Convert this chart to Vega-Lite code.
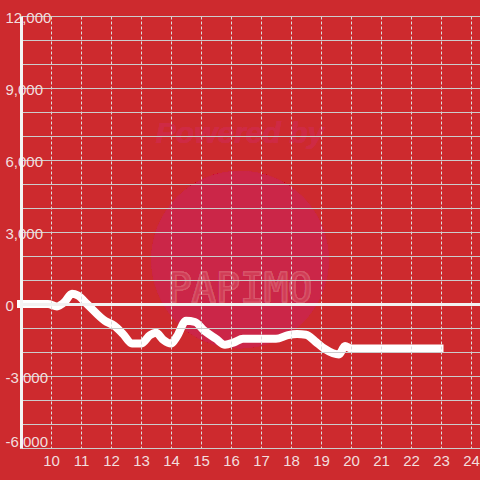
{
  "$schema": "https://vega.github.io/schema/vega-lite/v6.json",
  "width": 459,
  "height": 432,
  "autosize": {"type": "none"},
  "padding": {"left": 21, "top": 16, "right": 0, "bottom": 32},
  "background": "#cd2a2e",
  "config": {"view": {"stroke": null}, "font": "Liberation Sans"},
  "data": {
    "values": [
      {"hour": 9.0, "value": 0},
      {"hour": 9.5, "value": 0},
      {"hour": 9.9, "value": 0},
      {"hour": 10.2, "value": -100},
      {"hour": 10.45, "value": 80},
      {"hour": 10.7, "value": 430},
      {"hour": 10.9, "value": 350},
      {"hour": 11.2, "value": 0},
      {"hour": 11.8, "value": -700},
      {"hour": 12.1, "value": -900},
      {"hour": 12.4, "value": -1250},
      {"hour": 12.7, "value": -1650},
      {"hour": 13.0, "value": -1650},
      {"hour": 13.3, "value": -1300},
      {"hour": 13.5, "value": -1200},
      {"hour": 13.75, "value": -1500},
      {"hour": 14.0, "value": -1650},
      {"hour": 14.2, "value": -1350},
      {"hour": 14.5, "value": -700},
      {"hour": 14.8, "value": -750},
      {"hour": 15.1, "value": -1100},
      {"hour": 15.5, "value": -1450},
      {"hour": 15.8, "value": -1700},
      {"hour": 16.1, "value": -1600},
      {"hour": 16.4, "value": -1450},
      {"hour": 17.5, "value": -1450},
      {"hour": 17.9, "value": -1300},
      {"hour": 18.2, "value": -1250},
      {"hour": 18.5, "value": -1280},
      {"hour": 18.8, "value": -1550},
      {"hour": 19.1, "value": -1850},
      {"hour": 19.4, "value": -2050},
      {"hour": 19.6, "value": -2100},
      {"hour": 19.8, "value": -1750},
      {"hour": 20.0, "value": -1850},
      {"hour": 22.95, "value": -1850}
    ]
  },
  "encoding": {
    "x": {
      "field": "hour", "type": "quantitative",
      "scale": {"domain": [9, 24.3], "nice": false, "zero": false},
      "axis": {
        "zindex": 1,
        "values": [10, 11, 12, 13, 14, 15, 16, 17, 18, 19, 20, 21, 22, 23, 24],
        "grid": true, "gridDash": [3, 2], "gridColor": "#dcdcdc", "gridWidth": 1,
        "domain": false, "ticks": false, "tickSize": 0,
        "labelExpr": "format(datum.value, 'd')",
        "labelColor": "#f2dede", "labelFontSize": 15, "labelPadding": 5,
        "labelFlush": false, "labelOverlap": false, "title": null
      }
    },
    "y": {
      "field": "value", "type": "quantitative",
      "scale": {"domain": [-6000, 12000], "nice": false, "zero": false},
      "axis": {
        "zindex": 1,
        "values": [-6000, -5000, -4000, -3000, -2000, -1000, 0, 1000, 2000, 3000, 4000, 5000, 6000, 7000, 8000, 9000, 10000, 11000, 12000],
        "grid": true,
        "gridColor": {"condition": {"test": "datum.value === 0", "value": "#f2f2f2"}, "value": "#cccccc"},
        "gridWidth": {"condition": {"test": "datum.value === 0", "value": 3}, "value": 1},
        "domain": true, "domainColor": "#f4f4f4", "domainWidth": 3,
        "ticks": false, "tickSize": 0,
        "labelAlign": "left", "labelPadding": 16, "labelBaseline": "middle",
        "labelOffset": {"condition": {"test": "datum.value === -6000", "value": -7}, "value": 1},
        "labelExpr": "datum.value % 3000 !== 0 ? '' : (datum.value < 0 ? '-' + format(-datum.value, ',') : format(datum.value, ','))",
        "labelColor": "#f2dede", "labelFontSize": 15,
        "labelFlush": false, "labelOverlap": false, "title": null
      }
    }
  },
  "layer": [
    {
      "mark": {"type": "point", "filled": true, "fill": "#cb2648", "strokeWidth": 0, "opacity": 1, "size": 31416},
      "encoding": {
        "x": {"datum": 16.3, "type": "quantitative"},
        "y": {"datum": 1846, "type": "quantitative"}
      }
    },
    {
      "mark": {"type": "text", "text": "Powered by", "fontSize": 30, "fontWeight": "bold", "fontStyle": "italic", "fill": "#cf2a44", "align": "center", "baseline": "middle"},
      "encoding": {
        "x": {"datum": 16.3, "type": "quantitative"},
        "y": {"datum": 7100, "type": "quantitative"}
      }
    },
    {
      "mark": {"type": "text", "text": "PAPIMO", "fontSize": 40, "font": "DejaVu Sans Mono", "fill": "#d13c56", "stroke": "#d8566a", "strokeWidth": 1, "align": "center", "baseline": "middle"},
      "encoding": {
        "x": {"datum": 16.3, "type": "quantitative"},
        "y": {"datum": 600, "type": "quantitative"}
      }
    },
    {
      "mark": {"type": "line", "color": "#ffffff", "strokeWidth": 8, "interpolate": "monotone", "strokeCap": "square", "strokeJoin": "round"}
    }
  ]
}
